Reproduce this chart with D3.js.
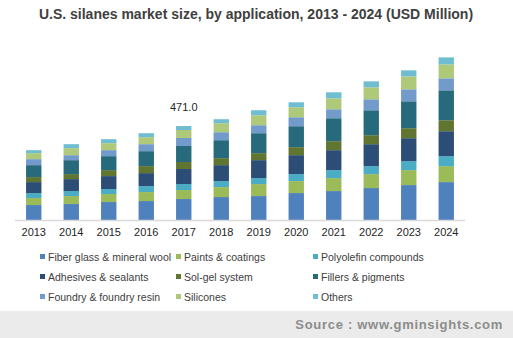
<!DOCTYPE html>
<html>
<head>
<meta charset="utf-8">
<script src="https://cdn.jsdelivr.net/npm/d3@7"></script>
<style>
  html, body { margin: 0; padding: 0; background: #fff; }
  svg { display: block; font-family: "Liberation Sans", Arial, sans-serif; }
</style>
</head>
<body>
<svg id="chart" width="513" height="338"></svg>
<script>
// U.S. silanes market size by application, USD Million
const years = ["2013","2014","2015","2016","2017","2018","2019","2020","2021","2022","2023","2024"];

const seriesNames = [
  "Fiber glass & mineral wool", "Paints & coatings", "Polyolefin compounds",
  "Adhesives & sealants", "Sol-gel system", "Fillers & pigments",
  "Foundry & foundry resin", "Silicones", "Others"
];

const fiberGlass   = [75, 80, 90, 95, 105.1, 115, 120, 135, 145, 160, 175, 190];
const paints       = [35, 40, 40, 45, 45.1, 50, 60, 60, 65, 70, 75, 80];
const polyolefin   = [25, 25, 25, 30, 30.1, 30, 30, 35, 40, 40, 45, 50];
const adhesives    = [55, 60, 65, 65, 75.2, 80, 90, 95, 100, 110, 115, 125];
const solGel       = [25, 25, 30, 35, 35.1, 35, 35, 40, 45, 45, 50, 55];
const fillers      = [60, 70, 70, 75, 80.2, 90, 100, 105, 115, 125, 135, 150];
const foundry      = [30, 25, 30, 35, 40.1, 40, 40, 45, 45, 55, 60, 60];
const silicones    = [30, 35, 35, 35, 40.1, 45, 50, 50, 55, 60, 65, 70];
const others       = [15, 20, 20, 20, 20.0, 20, 25, 25, 30, 30, 30, 35];

const colors = ["#4f81bd", "#9bbb59", "#4bacc6", "#2c4d75", "#5f7530",
                "#276a7c", "#729aca", "#afc97a", "#6fbdd1"];

// Value shown above the 2017 column
const labelYear = "2017";
const labelText = "471.0";

const seriesValues = [fiberGlass, paints, polyolefin, adhesives, solGel,
                      fillers, foundry, silicones, others];

const rows = years.map((y, i) => {
  const r = { year: y };
  seriesNames.forEach((s, k) => { r[s] = seriesValues[k][i]; });
  return r;
});

const svg = d3.select("#chart");

// Title
svg.append("text")
  .attr("x", 256).attr("y", 19)
  .attr("text-anchor", "middle")
  .attr("font-size", "14px").attr("font-weight", "bold")
  .attr("fill", "#404040")
  .text("U.S. silanes market size, by application, 2013 - 2024 (USD Million)");

const x = d3.scaleBand().domain(years).range([15, 465])
  .paddingInner(0.59).paddingOuter(0.295);
const y = d3.scaleLinear().domain([0, 852]).range([220, 50]);

const stack = d3.stack().keys(seriesNames)(rows);

svg.append("g").selectAll("g")
  .data(stack).join("g")
  .attr("fill", (d, i) => colors[i])
  .selectAll("rect")
  .data(d => d).join("rect")
  .attr("x", d => x(d.data.year))
  .attr("width", x.bandwidth())
  .attr("y", d => y(d[1]))
  .attr("height", d => y(d[0]) - y(d[1]));

// Category axis
const xAxis = svg.append("g")
  .attr("transform", "translate(0,220)")
  .call(d3.axisBottom(x).tickSize(0).tickPadding(8));
xAxis.select(".domain").attr("stroke", "#d9d9d9").attr("stroke-width", 1.5)
  .attr("d", "M15,0.5H465");
xAxis.selectAll("text")
  .attr("font-size", "11px").attr("fill", "#262626")
  .attr("font-family", "Liberation Sans, Arial, sans-serif");

// Total label
const labelRow = rows.find(r => r.year === labelYear);
const labelTotal = d3.sum(seriesNames, s => labelRow[s]);
svg.append("text")
  .attr("x", x(labelYear) + x.bandwidth() / 2)
  .attr("y", y(labelTotal) - 15)
  .attr("text-anchor", "middle")
  .attr("font-size", "11px").attr("fill", "#262626")
  .text(labelText);

// Legend, three columns
const legendCols = [40, 176, 313];
const legendRows = [257, 277, 297];
const legend = svg.append("g").selectAll("g")
  .data(seriesNames).join("g")
  .attr("transform", (d, i) => `translate(${legendCols[i % 3]},${legendRows[Math.floor(i / 3)]})`);
legend.append("rect")
  .attr("x", 0).attr("y", -3).attr("width", 5).attr("height", 5)
  .attr("fill", (d, i) => colors[i]);
legend.append("text")
  .attr("x", 8).attr("y", 4)
  .attr("font-size", "10.5px").attr("fill", "#404040")
  .text(d => d);

// Source band
svg.append("rect")
  .attr("x", 0).attr("y", 311).attr("width", 513).attr("height", 27)
  .attr("fill", "#ebebeb");
svg.append("text")
  .attr("x", 503).attr("y", 329)
  .attr("text-anchor", "end")
  .attr("font-size", "13px").attr("font-weight", "bold")
  .attr("letter-spacing", "0.7px")
  .attr("fill", "#8c8c8c")
  .text("Source : www.gminsights.com");
</script>
</body>
</html>
